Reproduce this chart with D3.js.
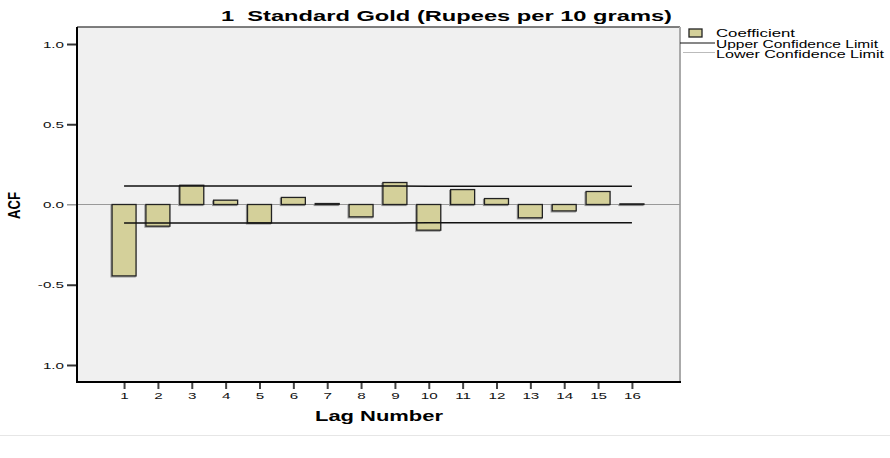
<!DOCTYPE html>
<html>
<head>
<meta charset="utf-8">
<script src="https://cdn.jsdelivr.net/npm/d3@7"></script>
<style>
  body { margin: 0; background: #fff; }
  text { font-family: "Liberation Sans", Arial, sans-serif; }
</style>
</head>
<body>
<svg id="chart"></svg>
<script>
const width = 890;
const height = 458;

// values
const lags = d3.range(1, 17);
const coefficient = [-0.445, -0.135, 0.12, 0.027, -0.115, 0.044, 0.006, -0.077,
  0.137, -0.16, 0.093, 0.037, -0.083, -0.04, 0.081, 0.004];
const upperLimit = [0.116, 0.116, 0.116, 0.116, 0.115, 0.115, 0.115, 0.115,
  0.115, 0.114, 0.114, 0.114, 0.114, 0.113, 0.113, 0.113];
const lowerLimit = [-0.116, -0.116, -0.116, -0.116, -0.115, -0.115, -0.115, -0.115,
  -0.115, -0.114, -0.114, -0.114, -0.114, -0.113, -0.113, -0.113];
const yTicks = [-1, -0.5, 0, 0.5, 1];
const yTickLabels = ['1.0', '-0.5', '0.0', '0.5', '1.0'];
const legendLabels = ['Coefficient', 'Upper Confidence Limit', 'Lower Confidence Limit'];

const plot = { left: 77, right: 680, top: 27, bottom: 382 };

const svg = d3.select('#chart')
  .attr('width', width)
  .attr('height', height);

const x = d3.scaleLinear().domain([-0.39, 17.42]).range([plot.left, plot.right]);
const y = d3.scaleLinear().domain([-1.106, 1.106]).range([plot.bottom, plot.top]);

// plot background
svg.append('rect')
  .attr('x', plot.left).attr('y', plot.top)
  .attr('width', plot.right - plot.left).attr('height', plot.bottom - plot.top)
  .attr('fill', '#f0f0f0');

// frame: top and right
svg.append('line')
  .attr('x1', plot.left).attr('x2', plot.right)
  .attr('y1', plot.top).attr('y2', plot.top)
  .attr('stroke', '#555').attr('stroke-width', 1.5);
svg.append('line')
  .attr('x1', plot.right).attr('x2', plot.right)
  .attr('y1', plot.top).attr('y2', plot.bottom)
  .attr('stroke', '#aaa').attr('stroke-width', 2);

// zero reference line
svg.append('line')
  .attr('x1', plot.left - 10).attr('x2', plot.right)
  .attr('y1', y(0)).attr('y2', y(0))
  .attr('stroke', '#999').attr('stroke-width', 1);

// bars
const barW = 24;
const bars = svg.append('g');
bars.selectAll('rect.shadow')
  .data(coefficient)
  .enter().append('rect')
  .attr('class', 'shadow')
  .attr('x', (d, i) => x(lags[i]) - barW / 2 - 1)
  .attr('y', d => Math.min(y(d), y(0)) + 1)
  .attr('width', barW)
  .attr('height', d => Math.abs(y(d) - y(0)))
  .attr('fill', 'none')
  .attr('stroke', '#999')
  .attr('stroke-width', 1.2);
bars.selectAll('rect.bar')
  .data(coefficient)
  .enter().append('rect')
  .attr('class', 'bar')
  .attr('x', (d, i) => x(lags[i]) - barW / 2)
  .attr('y', d => Math.min(y(d), y(0)))
  .attr('width', barW)
  .attr('height', d => Math.abs(y(d) - y(0)))
  .attr('fill', '#d4d09a')
  .attr('stroke', '#222')
  .attr('stroke-width', 1.3);

// confidence limits
const line = d3.line().x((d, i) => x(lags[i])).y(d => y(d));
svg.append('path').datum(upperLimit)
  .attr('d', line).attr('fill', 'none')
  .attr('stroke', '#111').attr('stroke-width', 1.5);
svg.append('path').datum(lowerLimit)
  .attr('d', line).attr('fill', 'none')
  .attr('stroke', '#111').attr('stroke-width', 1.5);

// y axis
const sx = 1.6;
const yAxis = svg.append('g')
  .attr('transform', `translate(${plot.left},0)`)
  .call(d3.axisLeft(y).tickValues(yTicks).tickSize(10).tickSizeOuter(0)
    .tickFormat((d, i) => yTickLabels[i]));
yAxis.select('.domain').remove();
yAxis.selectAll('.tick line')
  .attr('stroke', d => d === 0 ? '#999' : '#333')
  .attr('stroke-width', d => d === 0 ? 1 : 2);
yAxis.selectAll('.tick text')
  .attr('x', -13 / sx)
  .attr('transform', `scale(${sx},1)`)
  .attr('font-size', 9.5)
  .attr('fill', '#111');

// x axis
const xAxis = svg.append('g')
  .attr('transform', `translate(0,${plot.bottom})`)
  .call(d3.axisBottom(x).tickValues(lags).tickSize(7).tickSizeOuter(0)
    .tickFormat(d3.format('d')));
xAxis.select('.domain').remove();
xAxis.selectAll('.tick line').attr('stroke', '#444').attr('stroke-width', 2);
xAxis.selectAll('.tick text')
  .attr('y', 17).attr('dy', 0)
  .attr('transform', `scale(${sx},1)`)
  .attr('font-size', 9.5)
  .attr('fill', '#111');

// axis lines
svg.append('line')
  .attr('x1', plot.left).attr('x2', plot.left)
  .attr('y1', plot.top).attr('y2', plot.bottom + 1)
  .attr('stroke', '#000').attr('stroke-width', 2);
svg.append('line')
  .attr('x1', plot.left).attr('x2', plot.right + 1)
  .attr('y1', plot.bottom).attr('y2', plot.bottom)
  .attr('stroke', '#000').attr('stroke-width', 2);

// title and axis titles
svg.append('text')
  .attr('x', 221).attr('y', 21)
  .attr('font-size', 15.5).attr('font-weight', 'bold')
  .style('white-space', 'pre')
  .attr('textLength', 451).attr('lengthAdjust', 'spacingAndGlyphs')
  .text('1  Standard Gold (Rupees per 10 grams)');

svg.append('text')
  .attr('x', 315).attr('y', 421)
  .attr('font-size', 15).attr('font-weight', 'bold')
  .attr('textLength', 128).attr('lengthAdjust', 'spacingAndGlyphs')
  .text('Lag Number');

svg.append('text')
  .attr('transform', 'translate(20,219) rotate(-90)')
  .attr('font-size', 17).attr('font-weight', 'bold')
  .attr('textLength', 27).attr('lengthAdjust', 'spacingAndGlyphs')
  .text('ACF');

// legend
const legend = svg.append('g');
legend.append('rect')
  .attr('x', 689).attr('y', 29).attr('width', 13).attr('height', 8)
  .attr('fill', '#d4d09a').attr('stroke', '#222').attr('stroke-width', 1.3);
legend.append('line')
  .attr('x1', 680).attr('x2', 715).attr('y1', 43).attr('y2', 43)
  .attr('stroke', '#111').attr('stroke-width', 1.2);
legend.append('line')
  .attr('x1', 683).attr('x2', 715).attr('y1', 52.5).attr('y2', 52.5)
  .attr('stroke', '#bbb').attr('stroke-width', 1);
const legendLen = [79, 162, 168];
legend.selectAll('text')
  .data(legendLabels)
  .enter().append('text')
  .attr('x', 716)
  .attr('y', (d, i) => 37 + i * 10.5)
  .attr('font-size', 10)
  .attr('textLength', (d, i) => legendLen[i])
  .attr('lengthAdjust', 'spacingAndGlyphs')
  .text(d => d);

// faint separator near the bottom
svg.append('line')
  .attr('x1', 0).attr('x2', width).attr('y1', 435.5).attr('y2', 435.5)
  .attr('stroke', '#e6e6e6').attr('stroke-width', 1);
</script>
</body>
</html>
